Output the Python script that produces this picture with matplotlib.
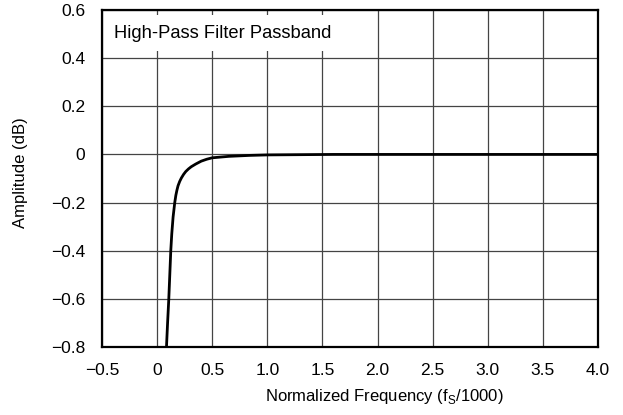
import matplotlib
matplotlib.use("Agg")
import matplotlib.pyplot as plt

plt.rcParams['font.family'] = ['Liberation Sans', 'DejaVu Sans']
plt.rcParams['mathtext.fontset'] = 'custom'
plt.rcParams['mathtext.rm'] = 'Liberation Sans'

# Passband response
freq = [0.085, 0.095, 0.106, 0.115, 0.124, 0.133, 0.145, 0.16, 0.17, 0.18,
        0.19, 0.205, 0.22, 0.24, 0.26, 0.285, 0.31, 0.35, 0.40, 0.45, 0.5,
        0.65, 0.84, 1.0, 1.3, 1.6, 2.0, 3.0, 4.0]
amp = [-0.8, -0.7, -0.6, -0.5, -0.4, -0.33, -0.26, -0.2, -0.17, -0.148,
       -0.13, -0.112, -0.098, -0.083, -0.071, -0.06, -0.051, -0.04, -0.028,
       -0.02, -0.014, -0.008, -0.004, -0.002, -0.001, 0.0, 0.0, 0.0, 0.0]

xticks = [-0.5, 0, 0.5, 1.0, 1.5, 2.0, 2.5, 3.0, 3.5, 4.0]
xticklabels = ['\u22120.5', '0', '0.5', '1.0', '1.5', '2.0', '2.5', '3.0', '3.5', '4.0']
yticks = [-0.8, -0.6, -0.4, -0.2, 0, 0.2, 0.4, 0.6]
yticklabels = ['\u22120.8', '\u22120.6', '\u22120.4', '\u22120.2', '0', '0.2', '0.4', '0.6']

fig = plt.figure(figsize=(6.23, 4.15), dpi=100)
ax = fig.add_axes([102 / 623, 1 - 347 / 415, 496 / 623, 337 / 415])

ax.plot(freq, amp, color='black', linewidth=2.0, zorder=4)

ax.set_xlim(-0.5, 4.0)
ax.set_ylim(-0.8, 0.6)
ax.set_xticks(xticks)
ax.set_xticklabels(xticklabels)
ax.set_yticks(yticks)
ax.set_yticklabels(yticklabels)
ax.tick_params(length=0, labelsize=12.5, colors='black')
ax.tick_params(axis='x', pad=11.5)
ax.tick_params(axis='y', pad=12)

ax.set_axisbelow(True)
ax.grid(True, color='#444444', linewidth=0.9)
for s in ax.spines.values():
    s.set_linewidth(1.6)
    s.set_color('black')

ax.set_xlabel(r'Normalized Frequency (f$_\mathregular{S}$/1000)', fontsize=12, va='center')
ax.xaxis.set_label_coords((384 - 102) / 496, -(396 - 347) / 337)
ax.set_ylabel('Amplitude (dB)', fontsize=12, va='center')
ax.yaxis.set_label_coords(-(102 - 21) / 496, (347 - 173) / 337)

ax.text(12 / 496, (347 - 33) / 337, 'High-Pass Filter Passband', transform=ax.transAxes,
        fontsize=13.2, ha='left', va='center', zorder=3,
        bbox=dict(boxstyle='square,pad=0.5', facecolor='white', edgecolor='none'))

fig.savefig('out.png', dpi=100)
